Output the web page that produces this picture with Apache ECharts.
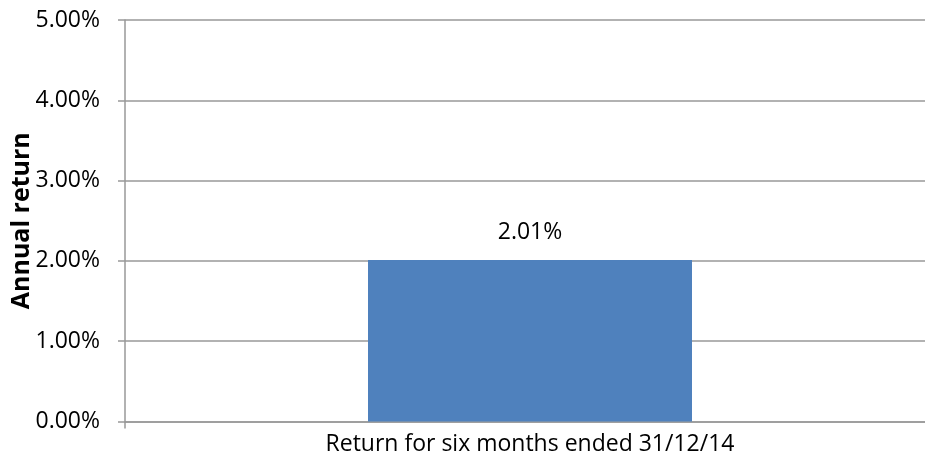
<!DOCTYPE html>
<html>
<head>
<meta charset="utf-8">
<script src="https://cdn.jsdelivr.net/npm/echarts@6/dist/echarts.min.js"></script>
<style>html,body{margin:0;padding:0;background:#fff;overflow:hidden;width:925px;height:468px;}#c{width:935px;height:468px;}</style>
</head>
<body>
<div id="c"></div>
<script>
const categories = ["Return for six months ended 31/12/14"];
const values = [2.01];
const yTicks = [0, 1, 2, 3, 4, 5];

const chart = echarts.init(document.getElementById('c'), null, {renderer: 'canvas'});
const font = "'Open Sans', 'DejaVu Sans', sans-serif";
chart.setOption({
  animation: false,
  grid: {left: 125, top: 20, right: 0, height: 401.5, containLabel: false, outerBoundsMode: 'none'},
  xAxis: {
    type: 'category',
    data: categories,
    axisLine: {lineStyle: {color: '#999', width: 1.5}},
    axisTick: {show: true, length: 7, lineStyle: {color: '#999', width: 1.5}},
    axisLabel: {color: '#000', fontFamily: font, fontSize: 23, margin: 11}
  },
  yAxis: {
    type: 'value',
    min: yTicks[0], max: yTicks[yTicks.length - 1], interval: 1,
    name: 'Annual return',
    nameLocation: 'middle',
    nameGap: 91,
    nameMoveOverlap: false,
    nameTextStyle: {color: '#000', fontFamily: font, fontSize: 25, fontWeight: 'bold'},
    axisLine: {show: true, lineStyle: {color: '#999', width: 1.5}},
    axisTick: {show: true, length: 7, lineStyle: {color: '#999', width: 1.5}},
    splitLine: {lineStyle: {color: '#999', width: 1.5}},
    axisLabel: {color: '#000', fontFamily: font, fontSize: 23, margin: 25,
      formatter: v => v.toFixed(2) + '%'}
  },
  series: [{
    type: 'bar',
    data: values,
    barWidth: '40%',
    itemStyle: {color: '#4F81BD'},
    label: {show: true, position: 'top', distance: 16, color: '#000', fontFamily: font, fontSize: 23,
      formatter: p => p.value.toFixed(2) + '%'}
  }]
});
</script>
</body>
</html>
